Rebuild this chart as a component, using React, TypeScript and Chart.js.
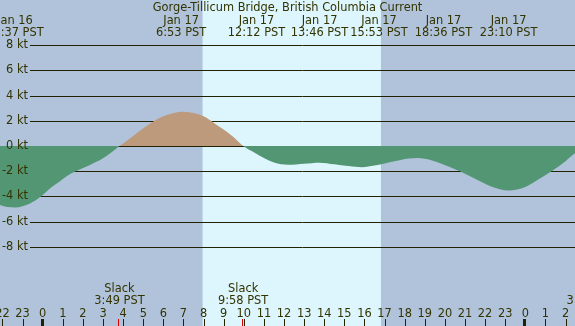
import React, { useEffect, useRef } from "react";
import { Chart, registerables } from "chart.js";

Chart.register(...registerables);

// Current (knots) by hour relative to midnight Jan 17
const hours = [-2.5, -2.12, -1.38, -0.63, -0.14, 0.36, 0.86, 1.21, 1.61, 2.35, 3.0, 3.82, 4.0, 4.5, 5.0, 5.5, 6.0, 6.5, 6.88, 7.5, 8.0, 8.5, 9.0, 9.5, 9.97, 10.5, 11.0, 11.5, 12.2, 13.0, 13.77, 14.5, 15.88, 16.5, 17.2, 17.8, 18.2, 18.6, 19.0, 19.4, 19.8, 20.8, 21.5, 22.3, 23.17, 24.0, 24.6, 25.3, 26.0, 26.5, 27.3];
const knots = [-4.3, -4.68, -4.87, -4.55, -4.07, -3.36, -2.8, -2.38, -2.03, -1.5, -0.98, 0, 0.2, 0.8, 1.4, 1.95, 2.35, 2.62, 2.72, 2.62, 2.35, 1.85, 1.3, 0.7, 0, -0.5, -0.95, -1.3, -1.48, -1.4, -1.32, -1.45, -1.68, -1.55, -1.3, -1.1, -1.0, -0.95, -1.02, -1.17, -1.38, -2.05, -2.6, -3.2, -3.52, -3.25, -2.7, -2.0, -1.2, -0.55, 0];

const title = "Gorge-Tillicum Bridge, British Columbia Current";
const yTicks = [8, 6, 4, 2, 0, -2, -4, -6, -8];
const hourTicks = [-2, -1, 0, 1, 2, 3, 4, 5, 6, 7, 8, 9, 10, 11, 12, 13, 14, 15, 16, 17, 18, 19, 20, 21, 22, 23, 24, 25, 26];

const peakTimes = [-1.383, 6.883, 12.2, 13.767, 15.883, 18.6, 23.167];
const peakDates = ["Jan 16", "Jan 17", "Jan 17", "Jan 17", "Jan 17", "Jan 17", "Jan 17"];
const peakLabels = ["22:37 PST", "6:53 PST", "12:12 PST", "13:46 PST", "15:53 PST", "18:36 PST", "23:10 PST"];
const peakLabelShift = [0, 0, -1.57, 0, 0.84, 1.33, 0];

const slackTimes = [3.817, 9.967, 27.3];
const slackLabels = ["3:49 PST", "9:58 PST", "3:18 PST"];

const sunrise = 7.95;
const sunset = 16.82;

const X_MIN = -2.1233;
const X_MAX = 26.4694;
const Y_MIN = -14.263;
const Y_MAX = 11.569;

const NIGHT = "#b0c3da";
const DAY = "#ddf6fe";
const FLOOD = "#bc9a7b";
const EBB = "#539673";
const INK = "#333300";
const FONT = "11.4px 'DejaVu Sans', sans-serif";

const tidePlugin = {
  id: "tidePlugin",
  beforeDraw(chart: any) {
    const { ctx, width, height } = chart;
    const xs = chart.scales.x;
    const ys = chart.scales.y;
    ctx.save();
    ctx.fillStyle = NIGHT;
    ctx.fillRect(0, 0, width, height);
    const d0 = xs.getPixelForValue(sunrise);
    const d1 = xs.getPixelForValue(sunset);
    ctx.fillStyle = DAY;
    ctx.fillRect(d0, 0, d1 - d0, height);
    ctx.strokeStyle = "#222200";
    ctx.lineWidth = 1;
    yTicks.forEach((v) => {
      const y = Math.round(ys.getPixelForValue(v)) + 0.5;
      ctx.beginPath();
      ctx.moveTo(30, y);
      ctx.lineTo(width, y);
      ctx.stroke();
    });
    ctx.restore();
  },
  afterDatasetsDraw(chart: any) {
    const { ctx, width } = chart;
    const xs = chart.scales.x;
    const ys = chart.scales.y;
    ctx.save();
    ctx.font = FONT;
    ctx.fillStyle = INK;
    ctx.textAlign = "right";
    ctx.textBaseline = "middle";
    yTicks.forEach((v) => {
      const y = Math.round(ys.getPixelForValue(v)) + 0.5;
      ctx.fillText(v + " kt", 28, y);
    });
    ctx.textAlign = "center";
    ctx.textBaseline = "alphabetic";
    ctx.fillText(title, width / 2, 11);
    peakTimes.forEach((t, i) => {
      const x = xs.getPixelForValue(t + peakLabelShift[i]);
      ctx.fillText(peakDates[i], x, 24);
      ctx.fillText(peakLabels[i], x, 35.5);
    });
    slackTimes.forEach((t, i) => {
      const x = xs.getPixelForValue(t);
      ctx.fillText("Slack", x, 291.5);
      ctx.fillText(slackLabels[i], x, 304);
    });
    hourTicks.forEach((h) => {
      const x = xs.getPixelForValue(h);
      const lab = String(((h % 24) + 24) % 24);
      ctx.fillStyle = INK;
      ctx.fillText(lab, x, 316.5);
      ctx.fillStyle = "#222200";
      if (lab === "0") {
        ctx.fillRect(Math.round(x) - 2, 319, 3, 7);
      } else {
        ctx.fillRect(Math.round(x), 319, 1, 7);
      }
    });
    ctx.fillStyle = "#dd0000";
    slackTimes.forEach((t) => {
      const x = xs.getPixelForValue(t);
      ctx.fillRect(Math.round(x) - 1, 319, 1, 7);
    });
    ctx.restore();
  },
};

export default function App() {
  const ref = useRef<HTMLCanvasElement | null>(null);
  useEffect(() => {
    document.body.style.margin = "0";
    const canvas = ref.current;
    if (!canvas) return;
    const chart = new Chart(canvas, {
      type: "line",
      data: {
        datasets: [
          {
            data: hours.map((h, i) => ({ x: h, y: knots[i] })),
            borderWidth: 0,
            borderColor: "rgba(0,0,0,0)",
            pointRadius: 0,
            cubicInterpolationMode: "monotone",
            fill: { target: "origin", above: FLOOD, below: EBB },
          } as any,
        ],
      },
      options: {
        animation: false,
        responsive: false,
        devicePixelRatio: 1,
        layout: { padding: 0 },
        plugins: { legend: { display: false }, tooltip: { enabled: false }, title: { display: false } },
        events: [],
        scales: {
          x: { type: "linear", min: X_MIN, max: X_MAX, display: false },
          y: { type: "linear", min: Y_MIN, max: Y_MAX, display: false },
        },
      },
      plugins: [tidePlugin],
    });
    return () => chart.destroy();
  }, []);
  return <canvas ref={ref} width={575} height={326} style={{ display: "block", width: 575, height: 326 }} />;
}
